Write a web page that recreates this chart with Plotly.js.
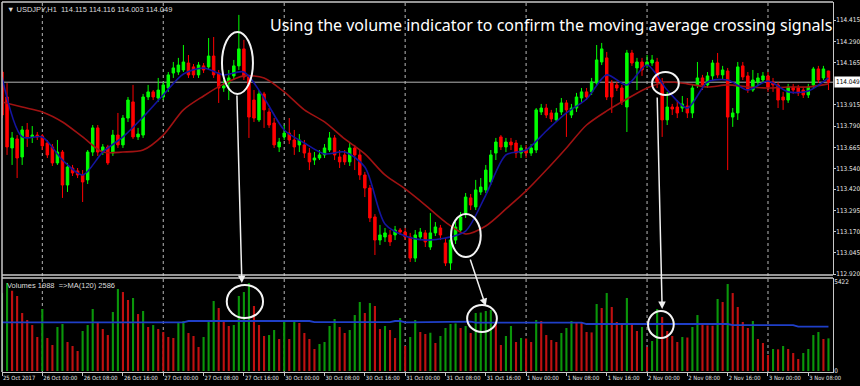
<!DOCTYPE html>
<html><head><meta charset="utf-8">
<script src="https://cdn.plot.ly/plotly-3.0.1.min.js"></script>
<style>html,body{margin:0;padding:0;background:#000;} #chart{width:860px;height:386px;}</style>
</head><body><div id="chart"></div>
<script>
// ---- price data (USDJPY H1), bar index 0..164 ----
const openP = [
114.109,113.962,113.662,113.715,113.609,113.768,113.727,113.738,113.733,113.691,
113.668,113.574,113.638,113.444,113.544,113.527,113.503,113.474,113.638,113.780,
113.638,113.668,113.632,113.738,113.680,113.838,113.933,113.727,113.738,113.962,
113.992,113.956,113.962,114.015,114.103,114.109,114.121,114.162,114.139,114.092,
114.145,114.139,114.203,114.103,114.015,114.044,114.086,114.145,114.245,114.080,
113.944,113.827,113.980,113.874,113.809,113.668,113.727,113.750,113.709,113.680,
113.680,113.632,113.591,113.603,113.621,113.650,113.721,113.609,113.621,113.580,
113.662,113.621,113.503,113.426,113.256,113.120,113.138,113.150,113.150,113.179,
113.167,113.138,113.014,113.138,113.162,113.079,113.162,113.191,113.103,112.985,
113.120,113.179,113.279,113.368,113.315,113.403,113.415,113.462,113.632,113.727,
113.668,113.697,113.691,113.632,113.650,113.632,113.650,113.874,113.897,113.868,
113.827,113.874,113.927,113.856,113.897,113.956,113.992,113.992,114.044,114.168,
114.192,114.044,114.033,114.015,113.903,114.221,114.133,114.168,114.150,114.162,
114.168,114.050,113.827,113.903,113.903,113.897,113.909,113.868,114.033,114.074,
114.033,114.086,114.162,114.092,114.115,113.844,113.868,114.145,114.086,114.003,
114.050,114.062,114.086,114.050,114.033,113.962,113.944,114.021,114.015,114.003,
113.974,114.033,114.127,114.074,114.115];
const highP = [
114.121,114.044,113.756,113.738,113.791,113.809,113.791,113.756,113.744,113.709,
113.685,113.709,113.650,113.574,113.562,113.544,113.532,113.650,113.797,113.797,
113.685,113.680,113.768,113.868,113.856,113.962,114.033,113.780,113.980,114.033,
114.003,114.074,114.050,114.109,114.168,114.192,114.268,114.209,114.156,114.168,
114.162,114.309,114.315,114.121,114.062,114.121,114.180,114.445,114.298,114.092,
114.003,114.003,113.992,113.897,113.838,113.721,113.797,113.838,113.768,113.744,
113.709,113.662,113.638,113.650,113.685,113.756,113.738,113.650,113.650,113.697,
113.680,113.650,113.521,113.444,113.273,113.209,113.191,113.179,113.203,113.191,
113.191,113.162,113.179,113.191,113.179,113.279,113.226,113.209,113.132,113.144,
113.226,113.285,113.397,113.391,113.474,113.485,113.562,113.650,113.721,113.738,
113.721,113.721,113.709,113.680,113.680,113.685,113.897,113.921,113.921,113.886,
113.897,113.956,113.944,113.921,113.986,114.015,114.015,114.074,114.268,114.280,
114.227,114.062,114.050,114.033,114.239,114.239,114.192,114.192,114.209,114.209,
114.192,114.074,113.992,113.921,113.944,113.968,113.956,114.033,114.168,114.092,
114.109,114.180,114.221,114.145,114.133,113.897,114.168,114.168,114.109,114.121,
114.103,114.109,114.109,114.074,114.050,113.992,114.039,114.039,114.033,114.021,
114.039,114.139,114.145,114.145,114.116];
const lowP = [
113.838,113.621,113.562,113.485,113.562,113.668,113.691,113.709,113.650,113.603,
113.556,113.562,113.368,113.403,113.497,113.485,113.344,113.450,113.615,113.615,
113.621,113.562,113.615,113.662,113.662,113.815,113.715,113.709,113.721,113.944,
113.944,113.933,113.944,113.992,114.074,114.092,114.109,114.074,114.074,114.074,
114.103,114.121,114.074,113.927,113.992,113.944,114.062,114.121,114.062,113.721,
113.815,113.815,113.780,113.780,113.662,113.638,113.709,113.685,113.621,113.638,
113.603,113.532,113.562,113.591,113.603,113.638,113.591,113.544,113.562,113.556,
113.532,113.474,113.373,113.226,113.032,113.091,113.109,113.085,113.120,113.150,
113.120,112.991,112.991,113.120,113.079,113.062,113.144,113.120,112.967,112.944,
113.097,113.167,113.250,113.297,113.297,113.385,113.397,113.444,113.591,113.650,
113.638,113.650,113.603,113.603,113.603,113.615,113.632,113.856,113.838,113.815,
113.815,113.856,113.727,113.838,113.874,113.933,113.944,113.974,114.027,114.150,
113.944,113.868,113.997,113.915,113.756,114.145,114.003,114.086,114.133,114.145,
114.015,113.727,113.797,113.856,113.838,113.874,113.838,113.838,114.015,114.003,
114.015,114.062,114.074,114.062,113.532,113.786,113.827,114.062,113.986,113.992,
114.033,114.044,113.992,113.992,113.897,113.886,113.927,113.980,113.968,113.956,
113.956,114.015,114.044,114.062,114.003];
const closeP = [
113.856,113.668,113.721,113.603,113.768,113.727,113.738,113.727,113.674,113.621,
113.574,113.638,113.444,113.550,113.515,113.503,113.462,113.638,113.780,113.638,
113.668,113.574,113.738,113.680,113.838,113.944,113.727,113.744,113.962,113.992,
113.962,114.003,114.033,114.092,114.133,114.150,114.168,114.092,114.092,114.150,
114.121,114.203,114.092,114.015,114.027,114.074,114.145,114.245,114.080,113.844,
113.838,113.980,113.886,113.797,113.680,113.697,113.750,113.709,113.668,113.709,
113.632,113.580,113.603,113.621,113.662,113.721,113.621,113.580,113.580,113.662,
113.621,113.503,113.426,113.250,113.120,113.150,113.162,113.109,113.179,113.167,
113.138,113.014,113.150,113.167,113.109,113.162,113.197,113.150,112.985,113.120,
113.197,113.256,113.373,113.326,113.415,113.432,113.532,113.621,113.697,113.668,
113.697,113.680,113.632,113.662,113.632,113.662,113.886,113.897,113.856,113.833,
113.868,113.927,113.886,113.897,113.962,113.992,113.962,114.050,114.180,114.245,
113.962,113.962,114.015,113.933,114.221,114.162,114.168,114.121,114.168,114.180,
114.050,113.827,113.903,113.891,113.868,113.921,113.868,114.015,114.074,114.033,
114.086,114.162,114.092,114.121,113.844,113.868,114.139,114.080,114.003,114.062,
114.074,114.086,114.021,114.033,113.944,113.944,114.021,114.003,113.986,113.974,
114.021,114.127,114.062,114.127,114.049];
const volumes = [
4750,5359,4890,4568,3532,3106,2801,2071,3776,2010,
1583,2680,2862,1766,1523,1218,2436,2801,3776,2984,
2558,2192,3593,4994,4811,4324,4446,3471,3654,2680,
2801,2558,2375,2071,2010,2984,3045,2314,2132,1462,
2071,3106,4263,3837,3106,2741,2801,4568,4811,5359,
3959,2801,2132,2192,2497,1949,2984,1949,2984,2923,
2314,1949,1340,1644,1766,2741,3167,2680,2314,2497,
3410,4202,3532,4141,3959,2558,2741,2497,2010,3228,
1523,2071,3106,2375,2253,2332,1705,2132,2619,2862,
2900,2619,2741,2314,3532,3560,3654,3715,2923,1583,
2132,2741,1766,2010,1980,1766,3106,3045,2192,1888,
1766,2314,2619,3045,2984,2923,2375,2350,4080,3837,
4750,3898,2984,2923,4446,2923,2436,2680,1462,1827,
3776,3289,2436,2132,1766,2071,2040,2680,3410,2801,
2780,2760,4385,4202,5298,4750,3898,2984,2619,3045,
1949,1705,974,1340,1320,1523,1340,1096,731,1096,
1340,2192,2375,1950,1988];

// moving averages (every 4th bar)
const maBars = [0,4,8,12,16,20,24,28,32,36,40,44,48,52,56,60,64,68,72,76,80,84,88,92,96,100,104,108,112,116,120,124,128,132,136,140,144,148,152,156,160,164];
const maFast = [114.080,113.727,113.727,113.591,113.503,113.638,113.727,113.844,113.974,114.097,114.133,114.092,114.109,113.956,113.768,113.691,113.627,113.638,113.550,113.215,113.144,113.120,113.132,113.173,113.385,113.621,113.650,113.762,113.868,113.950,114.092,114.033,114.150,114.003,113.897,114.050,114.062,114.003,114.056,113.992,113.997,114.074];
const maSlow = [113.933,113.903,113.874,113.815,113.727,113.638,113.638,113.650,113.738,113.886,113.968,114.039,114.086,114.074,113.992,113.886,113.815,113.715,113.627,113.503,113.421,113.326,113.226,113.156,113.203,113.303,113.409,113.532,113.662,113.797,113.880,113.950,114.015,114.050,114.039,114.021,114.033,114.021,114.015,114.021,114.021,114.039];

// volume MA(120) line
const volMaBars = [0,36,37,61,62,77,78,79,80,85,86,93,94,115,116,144,145,157,158,164];
const volMa = [2966,2966,3045,3045,2983,2983,3045,3045,2966,2966,3003,3003,2942,2942,2862,2862,2801,2801,2700,2700];

// axis ticks
const tickBars = [0,8,16,24,32,40,48,56,64,72,80,88,96,104,112,120,128,136,144,152,160];
const tickLabels = ['25 Oct 2017','26 Oct 00:00','26 Oct 08:00','26 Oct 16:00','27 Oct 00:00','27 Oct 08:00','27 Oct 16:00','30 Oct 00:00','30 Oct 08:00','30 Oct 16:00','31 Oct 00:00','31 Oct 08:00','31 Oct 16:00','1 Nov 00:00','1 Nov 08:00','1 Nov 16:00','2 Nov 00:00','2 Nov 08:00','2 Nov 16:00','3 Nov 00:00','3 Nov 08:00'];
const priceTicks = [114.415,114.290,114.165,113.915,113.790,113.665,113.540,113.420,113.295,113.170,113.045,112.920];
const volTicks = [0,5422];
const lastPrice = 114.049;
const headerText = '\u25BC USDJPY,H1  114.115 114.116 114.003 114.049';
const volHeader = 'Volumes 1988  =>MA(120) 2586';
const titleText = 'Using the volume indicator to confirm the moving average crossing signals';

const bars = closeP.map((_, i) => i);
const volColors = volumes.map((v, i) => (i === 0 || v > volumes[i - 1]) ? '#0a960a' : '#c01010');

const FONT = 'Liberation Sans Narrow, DejaVu Sans Condensed, Liberation Sans, Arial, sans-serif';
const xFont = {family: FONT, size: 5.8, color: '#e6e6e6'};
const yFont = {family: FONT, size: 6.4, color: '#e6e6e6'};

const traces = [
  {type: 'candlestick', x: bars, open: openP, high: highP, low: lowP, close: closeP,
   xaxis: 'x', yaxis: 'y', whiskerwidth: 0, hoverinfo: 'skip',
   increasing: {line: {color: '#00ff00', width: 1}, fillcolor: '#00ff00'},
   decreasing: {line: {color: '#ff0000', width: 1}, fillcolor: '#ff0000'}},
  {type: 'scatter', mode: 'lines', x: maBars, y: maSlow, xaxis: 'x', yaxis: 'y',
   line: {color: '#a01212', width: 1.6, shape: 'spline', smoothing: 0.8}, hoverinfo: 'skip'},
  {type: 'scatter', mode: 'lines', x: maBars, y: maFast, xaxis: 'x', yaxis: 'y',
   line: {color: '#1414a0', width: 1.6, shape: 'spline', smoothing: 0.8}, hoverinfo: 'skip'},
  {type: 'bar', x: bars, y: volumes, xaxis: 'x', yaxis: 'y2', width: 0.42,
   marker: {color: volColors, line: {width: 0}}, hoverinfo: 'skip'},
  {type: 'scatter', mode: 'lines', x: volMaBars, y: volMa, xaxis: 'x', yaxis: 'y2',
   line: {color: '#1f3fc8', width: 1.8}, hoverinfo: 'skip'}
];

const PRICE_BOTTOM = 0.262, VOL_TOP = 0.254;
const shapes = [];
// day separators
tickBars.forEach((b, k) => {
  if (tickLabels[k].endsWith('00:00')) {
    shapes.push({type: 'line', xref: 'x', yref: 'paper', x0: b, x1: b, y0: 0, y1: 1,
      line: {color: '#b8b8b8', width: 1, dash: 'dot'}, layer: 'below'});
  }
});
// current price line
shapes.push({type: 'line', xref: 'paper', yref: 'y', x0: 0, x1: 1, y0: lastPrice, y1: lastPrice,
  line: {color: '#b4b4b4', width: 1}, layer: 'below'});
// panel borders
shapes.push({type: 'line', xref: 'paper', yref: 'paper', x0: 0, x1: 1, y0: PRICE_BOTTOM, y1: PRICE_BOTTOM, line: {color: '#c8c8c8', width: 1.5}});
shapes.push({type: 'line', xref: 'paper', yref: 'paper', x0: 0, x1: 1, y0: VOL_TOP, y1: VOL_TOP, line: {color: '#c8c8c8', width: 1.5}});
shapes.push({type: 'line', xref: 'paper', yref: 'paper', x0: 0, x1: 1, y0: 1, y1: 1, line: {color: '#c8c8c8', width: 1.5}});
shapes.push({type: 'line', xref: 'paper', yref: 'paper', x0: 0, x1: 0, y0: 0, y1: 1, line: {color: '#c8c8c8', width: 1.5}});
// circles
const circ = (xr, yr, x0, x1, y0, y1) => ({type: 'circle', xref: xr, yref: yr, x0, x1, y0, y1, line: {color: '#f4f4f4', width: 2}});
shapes.push(circ('x', 'y', 43.65, 49.8, 113.980, 114.345));
shapes.push(circ('x', 'y', 89.1, 95.0, 113.020, 113.273));
shapes.push(circ('x', 'y', 129.0, 134.3, 113.974, 114.109));
shapes.push(circ('x', 'y2', 44.6, 51.8, 3228, 5237));
shapes.push(circ('x', 'y2', 92.3, 98.2, 2375, 4019));
shapes.push(circ('x', 'y2', 128.2, 133.3, 2010, 3654));

const arrow = (x, y, ax, ay) => ({xref: 'x', yref: 'y2', x, y, ax, ay, axref: 'pixel', ayref: 'pixel',
  text: '', showarrow: true, arrowhead: 2, arrowsize: 1, arrowwidth: 1.5, arrowcolor: '#f0f0f0'});

const annotations = [
  {xref: 'paper', yref: 'paper', x: 0, y: 1, xanchor: 'left', yanchor: 'top', xshift: 3, yshift: -1,
   text: headerText, showarrow: false, font: {family: 'Liberation Sans, Arial, sans-serif', size: 7.5, color: '#dcdcdc'}},
  {xref: 'paper', yref: 'paper', x: 0, y: VOL_TOP, xanchor: 'left', yanchor: 'top', xshift: 3, yshift: -1,
   text: volHeader, showarrow: false, font: {family: 'Liberation Sans, Arial, sans-serif', size: 7.5, color: '#dcdcdc'}},
  {xref: 'paper', yref: 'paper', x: 0.32, y: 0.938, xanchor: 'left', yanchor: 'middle',
   text: titleText, showarrow: false, font: {family: 'Noto Sans, DejaVu Sans, sans-serif', size: 16, color: '#ffffff'}},
  {xref: 'paper', yref: 'y', x: 1, y: lastPrice, xanchor: 'left', yanchor: 'middle', xshift: 1,
   text: lastPrice.toFixed(3), showarrow: false, bgcolor: '#ffffff', borderpad: 1,
   font: {family: FONT, size: 6.4, color: '#000000'}},
  arrow(47.6, 5359, -5, -189),
  arrow(96.0, 3959, -16, -48),
  arrow(131.0, 3776, -5, -213)
];

const layout = {
  width: 860, height: 386,
  margin: {l: 2, r: 27, t: 2, b: 14, pad: 0},
  paper_bgcolor: '#000000', plot_bgcolor: '#000000',
  showlegend: false, hovermode: false, dragmode: false,
  font: yFont,
  xaxis: {range: [0, 164.9], anchor: 'y2', tickvals: tickBars, ticktext: tickLabels, tickangle: 0,
    ticks: 'outside', ticklen: 3, tickcolor: '#c8c8c8', ticklabelposition: 'outside right',
    showline: true, linecolor: '#c8c8c8', linewidth: 1, showgrid: false, zeroline: false,
    rangeslider: {visible: false}, tickfont: xFont, fixedrange: true},
  yaxis: {domain: [PRICE_BOTTOM, 1], range: [112.914, 114.521], side: 'right',
    tickvals: priceTicks, ticktext: priceTicks.map(v => v.toFixed(3)),
    ticks: 'outside', ticklen: 2, tickcolor: '#c8c8c8', ticklabelstandoff: -1,
    showline: true, linecolor: '#c8c8c8', linewidth: 1,
    showgrid: false, zeroline: false, tickfont: yFont, fixedrange: true},
  yaxis2: {domain: [0, VOL_TOP], range: [-60, 5664], side: 'right',
    tickvals: volTicks, ticktext: volTicks.map(String), ticklabelstandoff: -1,
    ticks: '', showline: true, linecolor: '#c8c8c8', linewidth: 1,
    showgrid: false, zeroline: false, tickfont: yFont, fixedrange: true},
  shapes, annotations
};

Plotly.newPlot('chart', traces, layout, {displayModeBar: false, staticPlot: true});
</script></body></html>
